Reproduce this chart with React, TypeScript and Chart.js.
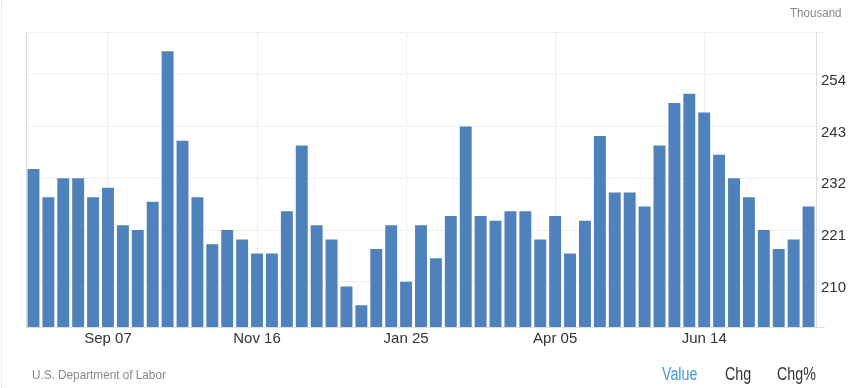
import React, { useEffect, useRef } from "react";
import { Chart, registerables } from "chart.js";

Chart.register(...registerables);

const weekLabels = [
  "Aug 03", "Aug 10", "Aug 17", "Aug 24", "Aug 31",
  "Sep 07", "Sep 14", "Sep 21", "Sep 28",
  "Oct 05", "Oct 12", "Oct 19", "Oct 26",
  "Nov 02", "Nov 09", "Nov 16", "Nov 23", "Nov 30",
  "Dec 07", "Dec 14", "Dec 21", "Dec 28",
  "Jan 04", "Jan 11", "Jan 18", "Jan 25",
  "Feb 01", "Feb 08", "Feb 15", "Feb 22",
  "Mar 01", "Mar 08", "Mar 15", "Mar 22", "Mar 29",
  "Apr 05", "Apr 12", "Apr 19", "Apr 26",
  "May 03", "May 10", "May 17", "May 24", "May 31",
  "Jun 07", "Jun 14", "Jun 21", "Jun 28",
  "Jul 05", "Jul 12", "Jul 19", "Jul 26",
  "Aug 02",
];

const claimsThousand = [
  234, 228, 232, 232, 228, 230, 222, 221, 227, 259,
  240, 228, 218, 221, 219, 216, 216, 225, 239, 222,
  219, 209, 205, 217, 222, 210, 222, 215, 224, 243,
  224, 223, 225, 225, 219, 224, 216, 223, 241, 229,
  229, 226, 239, 248, 250, 246, 237, 232, 228, 221,
  217, 219, 226,
];

const shownXTicks = ["Sep 07", "Nov 16", "Jan 25", "Apr 05", "Jun 14"];
const yTickValues = [210, 221, 232, 243, 254];
const unitText = "Thousand";
const sourceText = "U.S. Department of Labor";
const tabTexts = ["Value", "Chg", "Chg%"];

const BAR_COLOR = "#4f81bd";
const GRID_COLOR = "#e0e0e0";
const AXIS_COLOR = "#dddddd";
const SANS = '"Liberation Sans", Arial, sans-serif';

const framePlugin = {
  id: "framePlugin",
  beforeDatasetsDraw(chart: any) {
    const { ctx, chartArea } = chart;
    ctx.save();
    ctx.strokeStyle = GRID_COLOR;
    ctx.lineWidth = 1;
    ctx.setLineDash([1, 1]);
    ctx.beginPath();
    ctx.moveTo(chartArea.left, Math.round(chartArea.top) + 0.5);
    ctx.lineTo(chartArea.right + 8, Math.round(chartArea.top) + 0.5);
    ctx.stroke();
    ctx.setLineDash([]);
    ctx.strokeStyle = AXIS_COLOR;
    ctx.beginPath();
    ctx.moveTo(Math.round(chartArea.left) + 0.5, chartArea.top);
    ctx.lineTo(Math.round(chartArea.left) + 0.5, chartArea.bottom);
    ctx.stroke();
    ctx.beginPath();
    ctx.moveTo(chartArea.right, Math.round(chartArea.bottom) + 0.5);
    ctx.lineTo(chartArea.right + 9, Math.round(chartArea.bottom) + 0.5);
    ctx.stroke();
    ctx.restore();
  },
};

function Label(props: {
  text: string;
  left: number;
  top: number;
  size: number;
  scale: number;
  color: string;
}) {
  return (
    <div
      style={{
        position: "absolute",
        left: props.left,
        top: props.top,
        fontFamily: SANS,
        fontSize: props.size,
        lineHeight: props.size + "px",
        color: props.color,
        whiteSpace: "nowrap",
        transform: `scaleX(${props.scale})`,
        transformOrigin: "left top",
      }}
    >
      {props.text}
    </div>
  );
}

export default function App() {
  const canvasRef = useRef<HTMLCanvasElement | null>(null);

  useEffect(() => {
    if (!canvasRef.current) return;
    const chart = new Chart(canvasRef.current, {
      type: "bar",
      data: {
        labels: weekLabels,
        datasets: [
          {
            data: claimsThousand,
            backgroundColor: BAR_COLOR,
            borderWidth: 0,
            barPercentage: 0.8,
            categoryPercentage: 1,
          },
        ],
      },
      options: {
        responsive: false,
        animation: false,
        devicePixelRatio: 1,
        layout: { padding: { left: 26, top: 32, right: 0, bottom: 37 } },
        plugins: {
          legend: { display: false },
          tooltip: { enabled: false },
        },
        scales: {
          x: {
            offset: true,
            grid: {
              offset: false,
              color: GRID_COLOR,
              drawTicks: false,
            },
            border: { display: true, color: AXIS_COLOR, dash: [1, 1] },
            ticks: {
              autoSkip: false,
              maxRotation: 0,
              padding: 3,
              color: "#333333",
              font: { family: SANS, size: 15 },
              callback: function (this: any, value: any, index: number) {
                const lbl = weekLabels[index];
                return shownXTicks.includes(lbl) ? lbl : null;
              },
            },
            afterFit(axis: any) {
              axis.height = 24;
            },
          },
          y: {
            position: "right",
            min: 200.4,
            max: 263.1,
            grid: {
              color: GRID_COLOR,
              tickLength: 4,
              tickColor: GRID_COLOR,
              tickBorderDash: [1, 1],
            },
            border: { display: true, color: AXIS_COLOR, dash: [1, 1] },
            afterBuildTicks(axis: any) {
              axis.ticks = yTickValues.map((v) => ({ value: v }));
            },
            ticks: {
              padding: 1,
              labelOffset: 6,
              color: "#333333",
              font: { family: SANS, size: 15 },
            },
            afterFit(axis: any) {
              axis.width = 36;
            },
          },
        },
      },
      plugins: [framePlugin],
    });
    return () => chart.destroy();
  }, []);

  return (
    <div
      style={{
        position: "fixed",
        left: 0,
        top: 0,
        width: 852,
        height: 388,
        background: "#ffffff",
        overflow: "hidden",
      }}
    >
      <div
        style={{
          position: "absolute",
          left: 1,
          top: 0,
          width: 0,
          height: 388,
          borderLeft: "1px dotted #dddddd",
        }}
      />
      <canvas
        ref={canvasRef}
        width={852}
        height={388}
        style={{ position: "absolute", left: 0, top: 0, width: 852, height: 388, display: "block" }}
      />
      <Label text={unitText} left={789.5} top={6.6} size={12.6} scale={0.92} color="#888888" />
      <Label text={sourceText} left={32} top={368.3} size={13.5} scale={0.87} color="#888888" />
      {tabTexts.map((t, i) => (
        <Label
          key={t}
          text={t}
          left={[662, 725, 777][i]}
          top={366}
          size={17.6}
          scale={0.81}
          color={i === 0 ? "#3d9ae8" : "#333333"}
        />
      ))}
    </div>
  );
}
